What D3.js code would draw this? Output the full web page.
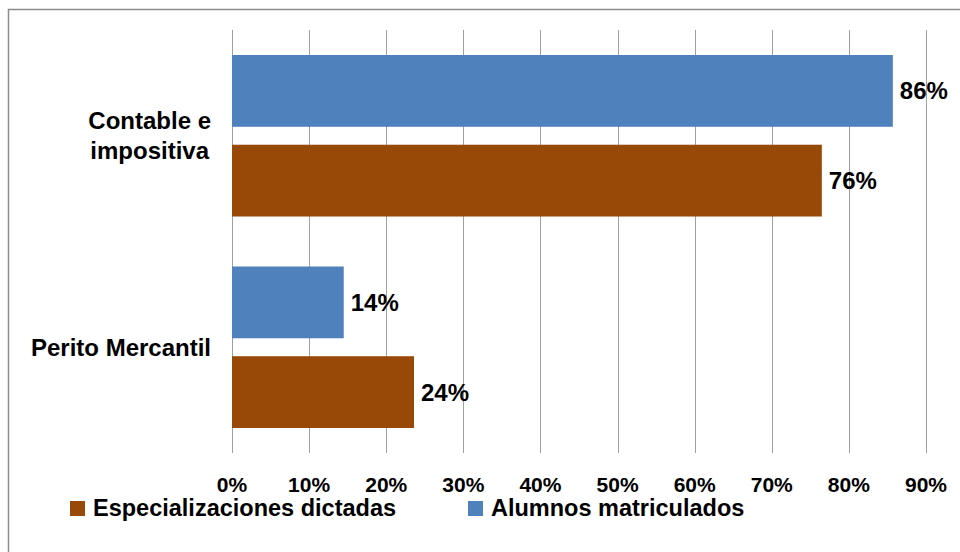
<!DOCTYPE html>
<html>
<head>
<meta charset="utf-8">
<script src="https://cdn.jsdelivr.net/npm/d3@7"></script>
<style>
  body { margin: 0; background: #fff; }
  text { font-family: "Liberation Sans", Arial, sans-serif; font-weight: bold; fill: #000; }
</style>
</head>
<body>
<script>
// data
var categories = [["Contable e", "impositiva"], ["Perito Mercantil"]];
var seriesNames = ["Alumnos matriculados", "Especializaciones dictadas"];
var seriesColors = ["#4f81bd", "#984807"];
var alumnos = [0.857, 0.1449];
var especializaciones = [0.7649, 0.236];
var ticks = [0, 0.1, 0.2, 0.3, 0.4, 0.5, 0.6, 0.7, 0.8, 0.9];
var legendOrder = [1, 0];

var w = 960, h = 552;
var plotLeft = 232, plotRight = 926, plotTop = 30, plotBottom = 453;

var svg = d3.select("body").append("svg")
    .attr("width", w)
    .attr("height", h);

// outer frame (runs off the right and bottom edges)
svg.append("rect")
    .attr("x", 8.5).attr("y", 9.5)
    .attr("width", 1000).attr("height", 600)
    .attr("fill", "none")
    .attr("stroke", "#8c8c8c")
    .attr("stroke-width", 1.5);

var x = d3.scaleLinear().domain([0, 0.9]).range([plotLeft, plotRight]);
var y0 = d3.scaleBand().domain(d3.range(categories.length)).range([plotTop, plotBottom]);
var y1 = d3.scaleBand().domain([0, 1])
    .range([25, y0.bandwidth() - 25])
    .paddingInner(0.2);

// gridlines
svg.append("g").selectAll("line")
    .data(ticks)
    .enter().append("line")
    .attr("x1", function(d) { return Math.round(x(d)) + 0.5; })
    .attr("x2", function(d) { return Math.round(x(d)) + 0.5; })
    .attr("y1", plotTop).attr("y2", plotBottom)
    .attr("stroke", "#a0a0a0")
    .attr("stroke-width", 1);

// bars
var values = [alumnos, especializaciones];
var groups = svg.append("g").selectAll("g")
    .data(categories)
    .enter().append("g")
    .attr("transform", function(d, i) { return "translate(0," + y0(i) + ")"; });

groups.selectAll("rect")
    .data(function(d, i) { return values.map(function(v, s) { return {s: s, v: v[i]}; }); })
    .enter().append("rect")
    .attr("x", x(0))
    .attr("y", function(d) { return y1(d.s); })
    .attr("width", function(d) { return x(d.v) - x(0); })
    .attr("height", y1.bandwidth())
    .attr("fill", function(d) { return seriesColors[d.s]; });

groups.selectAll("text.lbl")
    .data(function(d, i) { return values.map(function(v, s) { return {s: s, v: v[i]}; }); })
    .enter().append("text")
    .attr("class", "lbl")
    .attr("x", function(d) { return x(d.v) + 7; })
    .attr("y", function(d) { return y1(d.s) + y1.bandwidth() / 2; })
    .attr("dy", "0.35em")
    .attr("font-size", 24)
    .text(function(d) { return d3.format(".0%")(d.v); });

// category labels, wrapped lines centred in a right aligned block
var catRight = 211;
categories.forEach(function(lines, i) {
    var g = svg.append("g");
    var lh = 30;
    var cy = y0(i) + y0.bandwidth() / 2;
    var t = g.selectAll("text").data(lines).enter().append("text")
        .attr("font-size", 24)
        .attr("y", function(d, k) { return cy + (k - (lines.length - 1) / 2) * lh; })
        .attr("dy", "0.35em")
        .attr("text-anchor", "middle")
        .text(function(d) { return d; });
    var maxW = 0;
    t.each(function() { maxW = Math.max(maxW, this.getComputedTextLength()); });
    t.attr("x", catRight - maxW / 2);
});

// x tick labels
svg.append("g").selectAll("text")
    .data(ticks)
    .enter().append("text")
    .attr("x", function(d) { return x(d); })
    .attr("y", 492)
    .attr("text-anchor", "middle")
    .attr("font-size", 21)
    .text(function(d) { return d3.format(".0%")(d); });

// legend
var legendX = [70, 468];
var leg = svg.append("g").selectAll("g")
    .data(legendOrder)
    .enter().append("g")
    .attr("transform", function(d, i) { return "translate(" + legendX[i] + ",0)"; });

leg.append("rect")
    .attr("x", 0).attr("y", 501)
    .attr("width", 15).attr("height", 15)
    .attr("fill", function(d) { return seriesColors[d]; });

leg.append("text")
    .attr("x", 23).attr("y", 516)
    .attr("font-size", 23.5)
    .text(function(d) { return seriesNames[d]; });
</script>
</body>
</html>
